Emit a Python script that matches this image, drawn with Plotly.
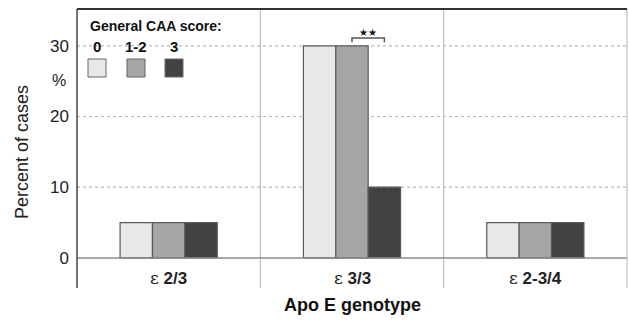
import plotly.graph_objects as go

categories = ["ε 2/3", "ε 3/3", "ε 2-3/4"]
cat_bold = ["2/3", "3/3", "2-3/4"]
series_names = ["0", "1-2", "3"]
score_0 = [5, 30, 5]
score_12 = [5, 30, 5]
score_3 = [5, 10, 5]
y_ticks = [0, 10, 20, 30]
colors = ["#e7e8ea", "#a6a6a6", "#424242"]

FONT = "Liberation Sans, Arial, sans-serif"
BARGAP = 0.47
L, T, PW, PH = 77, 9, 550, 279


def px(x):
    return (x - L) / PW


def py(y):
    return (T + PH - y) / PH


fig = go.Figure()
xs = [0, 1, 2]
for name, vals, col in zip(series_names, [score_0, score_12, score_3], colors):
    fig.add_trace(go.Bar(x=xs, y=vals, name=name,
                         marker=dict(color=col, line=dict(color="#5a5a5a", width=1.2)),
                         showlegend=False, hoverinfo="skip"))

fig.update_layout(
    width=629, height=323,
    margin=dict(l=L, r=629 - L - PW, t=T, b=323 - T - PH),
    paper_bgcolor="white", plot_bgcolor="white",
    barmode="group", bargap=BARGAP, bargroupgap=0,
    font=dict(family=FONT, color="#222"),
    xaxis=dict(range=[-0.5, 2.5], showticklabels=False, showgrid=False, zeroline=False,
               showline=False, ticks=""),
    yaxis=dict(range=[-4.25, 35.2], tickvals=y_ticks, ticktext=[str(v) for v in y_ticks],
               tickfont=dict(size=17, family=FONT, color="#222"), ticks="", ticklen=0,
               ticklabelstandoff=7,
               showgrid=False, zeroline=False, showline=False),
)

for v in y_ticks[1:]:
    fig.add_shape(type="line", xref="paper", yref="y", x0=0, x1=1, y0=v, y1=v,
                  line=dict(color="#b8b8b8", width=1.2, dash="dot"), layer="below")
fig.add_shape(type="line", xref="paper", yref="y", x0=0, x1=1, y0=0, y1=0,
              line=dict(color="#8a8a8a", width=1.5), layer="above")
for xv in [0.5, 1.5]:
    fig.add_shape(type="line", xref="x", yref="paper", x0=xv, x1=xv, y0=0, y1=1,
                  line=dict(color="#c4c4c4", width=1.3), layer="below")
fig.add_shape(type="line", xref="paper", yref="paper", x0=1, x1=1, y0=0, y1=1,
              line=dict(color="#c4c4c4", width=1.3))
fig.add_shape(type="line", xref="paper", yref="paper", x0=0, x1=1, y0=1, y1=1,
              line=dict(color="#333", width=2))
fig.add_shape(type="line", xref="paper", yref="paper", x0=0, x1=0, y0=0, y1=1,
              line=dict(color="#444", width=1.5))

for i, b in enumerate(cat_bold):
    fig.add_annotation(x=i, y=-2.9, xref="x", yref="y", showarrow=False,
                       xanchor="center", yanchor="middle",
                       text="<span style='font-family:DejaVu Serif;font-weight:normal'>ε</span> <b>" + b + "</b>",
                       font=dict(size=17, family=FONT, color="#222"))

w = (1 - BARGAP) / 3
bx0, bx1 = 1 + 0.0, 1 + w
ytop, ybot = 31.1, 30.5
fig.add_shape(type="path", xref="x", yref="y",
              path=f"M {bx0} {ybot} L {bx0} {ytop} L {bx1} {ytop} L {bx1} {ybot}",
              line=dict(color="#555", width=1.5))
fig.add_annotation(x=(bx0 + bx1) / 2, y=ytop, xref="x", yref="y", xanchor="center",
                   yanchor="bottom", showarrow=False,
                   text="★★", font=dict(size=10, color="#111", family="DejaVu Sans"), yshift=-2)

fig.add_annotation(x=0, y=25.1, xref="paper", yref="y", xanchor="right", yanchor="middle",
                   xshift=-9, showarrow=False,
                   text="%", font=dict(size=16, family=FONT, color="#222"))
fig.add_annotation(x=px(22), y=py(152), xref="paper", yref="paper", showarrow=False,
                   xanchor="center", yanchor="middle", textangle=-90,
                   text="Percent of cases", font=dict(size=18, family=FONT, color="#222"))
fig.add_annotation(x=1, y=py(305), xref="x", yref="paper", xanchor="center", yanchor="middle",
                   showarrow=False,
                   text="<b>Apo E genotype</b>", font=dict(size=18, family=FONT, color="#111"))

fig.add_annotation(x=px(88), y=py(26), xref="paper", yref="paper", xanchor="left",
                   yanchor="middle", showarrow=False, text="<b>General CAA score:</b>",
                   font=dict(size=14, family=FONT, color="#111"))
leg_x = [97, 136, 174]
for name, lx, col in zip(series_names, leg_x, colors):
    fig.add_annotation(x=px(lx), y=py(47), xref="paper", yref="paper",
                       xanchor="center", yanchor="middle",
                       showarrow=False, text="<b>" + name + "</b>",
                       font=dict(size=15, family=FONT, color="#111"))
    fig.add_shape(type="rect", xref="paper", yref="paper", x0=px(lx - 9), x1=px(lx + 9),
                  y0=py(77), y1=py(59), fillcolor=col, line=dict(color="#666", width=1))

fig.write_html("out.html", config={"displayModeBar": False},
               post_script="document.body.style.margin='0';document.body.style.padding='0';")
